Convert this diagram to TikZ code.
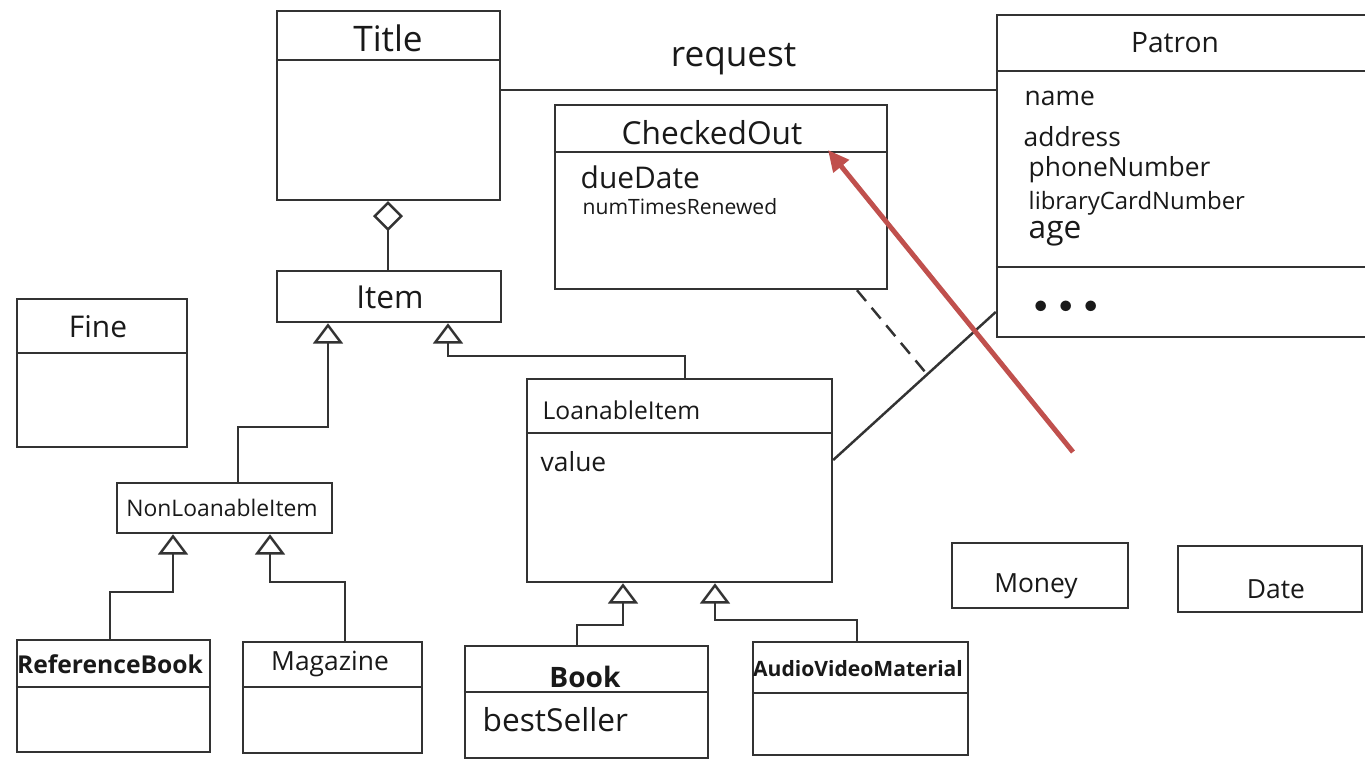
\documentclass[tikz,border=0pt]{standalone}
\usepackage{fontspec}
\setmainfont{Open Sans}
\usetikzlibrary{arrows.meta,fit,calc}

\newcommand{\fsz}[1]{\fontsize{#1}{#1}\selectfont}

\tikzset{
  classbox/.style={draw=black!80, line width=0.7pt, inner sep=0pt},
  divider/.style={draw=black!80, line width=0.7pt},
  link/.style={draw=black!80, line width=0.7pt},
  gen/.style={link, -{Triangle[open, length=5.8pt, width=8.5pt]}},
  aggr/.style={link, -{Diamond[open, length=8.5pt, width=8.5pt]}},
  redarrow/.style={draw={rgb,255:red,192;green,80;blue,77}, line width=1.4pt,
                   -{Triangle[length=6pt, width=5.5pt]}},
  txt/.style={inner sep=0pt, text=black!90},
  t/.style={txt, font=\fsz{#1}},
  tl/.style={txt, font=\fsz{#1}, anchor=west},
}

\begin{document}
\begin{tikzpicture}[x=0.01cm, y=-0.01cm]
  \useasboundingbox (0,0) rectangle (1365,761);
  \fill[white] (0,0) rectangle (1365,761);

  % ---- class boxes -------------------------------------------------
  \node[classbox, fit={(277,11) (500,200)}]    (title) {};
  \node[classbox, fit={(277,271) (501,322)}]   (item) {};
  \node[classbox, fit={(17,299) (187,447)}]    (fine) {};
  \node[classbox, fit={(555,105) (887,289)}]   (co) {};
  \node[classbox, fit={(997,15) (1385,337)}]   (patron) {};
  \node[classbox, fit={(117,483) (332,533)}]   (nli) {};
  \node[classbox, fit={(17,640) (210,752)}]    (ref) {};
  \node[classbox, fit={(243,642) (422,753)}]   (mag) {};
  \node[classbox, fit={(527,379) (832,582)}]   (loan) {};
  \node[classbox, fit={(465,646) (708,758)}]   (book) {};
  \node[classbox, fit={(753,642) (968,755)}]   (avm) {};
  \node[classbox, fit={(952,543) (1128,608)}]  (money) {};
  \node[classbox, fit={(1178,546) (1362,612)}] (date) {};

  % ---- compartment dividers ---------------------------------------
  \draw[divider] (title.west |- 0,60)  -- (title.east |- 0,60);
  \draw[divider] (fine.west |- 0,353)  -- (fine.east |- 0,353);
  \draw[divider] (co.west |- 0,152)    -- (co.east |- 0,152);
  \draw[divider] (patron.west |- 0,71) -- (patron.east |- 0,71);
  \draw[divider] (patron.west |- 0,267) -- (patron.east |- 0,267);
  \draw[divider] (ref.west |- 0,687)   -- (ref.east |- 0,687);
  \draw[divider] (mag.west |- 0,687)   -- (mag.east |- 0,687);
  \draw[divider] (loan.west |- 0,433)  -- (loan.east |- 0,433);
  \draw[divider] (book.west |- 0,692)  -- (book.east |- 0,692);
  \draw[divider] (avm.west |- 0,693)   -- (avm.east |- 0,693);

  % ---- class names and attributes ------------------------------------
  \node[t=10] (titleN) at (388,38) {Title};
  \node[t=9]  (itemN) at (390,297) {Item};
  \node[t=8.5] (fineN) at (98,327) {Fine};
  \node[t=9]  (coN) at (712,133) {CheckedOut};
  \node[tl=8.5] (coA1) at (580,177) {dueDate};
  \node[tl=6]   (coA2) at (582,207) {numTimesRenewed};
  \node[t=8]  (patronN) at (1175,43) {Patron};
  \node[tl=7.5] (pA1) at (1024,98)  {name};
  \node[tl=7.5] (pA2) at (1023,137) {address};
  \node[tl=7.5] (pA3) at (1028,170) {phoneNumber};
  \node[tl=6.8] (pA4) at (1028,203) {libraryCardNumber};
  \node[tl=9]   (pA5) at (1028,234) {age};
  \node[tl=7]   (pOps) at (1033,307)
      {$\bullet$\hspace{3pt}$\bullet$\hspace{3pt}$\bullet$};
  \node[t=6.5] (nliN) at (222,508) {NonLoanableItem};
  \node[t=7, font=\fsz{7}\bfseries] (refN) at (110,664) {ReferenceBook};
  \node[t=7.5] (magN) at (330,664) {Magazine};
  \node[tl=7]   (loanN) at (542,410) {LoanableItem};
  \node[tl=7.5] (loanA) at (540,462) {value};
  \node[t=8, font=\fsz{8}\bfseries] (bookN) at (585,677) {Book};
  \node[tl=9]   (bookA) at (482,720) {bestSeller};
  \node[t=6, font=\fsz{6}\bfseries] (avmN) at (858,669) {AudioVideoMaterial};
  \node[t=7.5] (moneyN) at (1036,586) {Money};
  \node[t=7.5] (dateN) at (1276,589) {Date};

  % ---- associations --------------------------------------------------
  \draw[aggr] (item.north -| 388,0) -- (title.south -| 388,0);
  \draw[link] (title.east |- 0,90) -- (patron.west |- 0,90)
      node[t=10, pos=0.47, above=4pt] (reqN) {request};

  \coordinate (asA) at (loan.east |- 0,460);
  \coordinate (asB) at (patron.west |- 0,312);
  \coordinate (asM) at ($(asA)!0.578!(asB)$);
  \draw[link] (asA) -- (asB);
  \draw[link, dashed, dash pattern=on 4pt off 2.5pt] (co.south -| 857,0) -- (asM);

  % ---- generalizations ---------------------------------------------
  \draw[gen] (nli.north -| 238,0) |- (328,427) -- (item.south -| 328,0);
  \draw[gen] (loan.north -| 685,0) |- (448,356) -- (item.south -| 448,0);
  \draw[gen] (ref.north -| 110,0) |- (173,592) -- (nli.south -| 173,0);
  \draw[gen] (mag.north -| 345,0) |- (270,582) -- (nli.south -| 270,0);
  \draw[gen] (book.north -| 577,0) |- (623,625) -- (loan.south -| 623,0);
  \draw[gen] (avm.north -| 857,0) |- (715,620) -- (loan.south -| 715,0);

  % ---- red pointer -------------------------------------------------
  \coordinate (redTail) at (1073,452);
  \coordinate (redTip) at (828,150);
  \draw[redarrow] (redTail) -- (redTip);
\end{tikzpicture}
\end{document}
